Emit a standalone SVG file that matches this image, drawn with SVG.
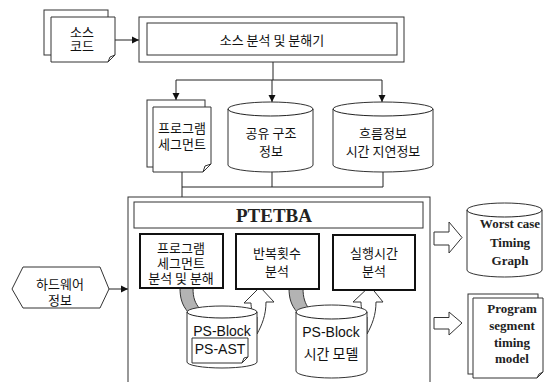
<svg xmlns="http://www.w3.org/2000/svg" width="544" height="382" viewBox="0 0 544 382">
<defs>
<marker id="ah" markerWidth="8" markerHeight="8" refX="7" refY="4" orient="auto" markerUnits="userSpaceOnUse">
<path d="M0,0.5 L7,4 L0,7.5 Z" fill="#111"/>
</marker>
<style>
.ln{fill:none;stroke:#222;stroke-width:1}
.sh{fill:#fff;stroke:#333;stroke-width:1}
.bx{fill:#fff;stroke:#111;stroke-width:2}
.kt{font-family:"Noto Sans CJK KR","Noto Sans",sans-serif;font-size:13px;fill:#111;text-anchor:middle;dominant-baseline:central}
.st{font-family:"Liberation Sans",Arial,sans-serif;font-size:14px;fill:#111;text-anchor:middle;dominant-baseline:central}
.sb{font-family:"Liberation Serif","Times New Roman",serif;font-weight:bold;font-size:13px;fill:#222;text-anchor:middle;dominant-baseline:central}
.big{font-size:19px}
.k14{font-size:14px}
.grey{fill:#b3b3b3;stroke:#333;stroke-width:1}
.hol{fill:#fff;stroke:#333;stroke-width:1}
</style>
</defs>
<rect width="544" height="382" fill="#fff"/>

<g id="connectors">
<line class="ln" x1="115" y1="40" x2="139" y2="40" marker-end="url(#ah)"/>
<polyline class="ln" points="273,62 273,80"/>
<line class="ln" x1="176" y1="80" x2="382" y2="80"/>
<line class="ln" x1="176" y1="80" x2="176" y2="100" marker-end="url(#ah)"/>
<line class="ln" x1="272" y1="80" x2="272" y2="102" marker-end="url(#ah)"/>
<line class="ln" x1="382" y1="80" x2="382" y2="102" marker-end="url(#ah)"/>
<line class="ln" x1="182" y1="172" x2="182" y2="234" marker-end="url(#ah)"/>
<line class="ln" x1="182" y1="187" x2="383" y2="187"/>
<line class="ln" x1="272" y1="172" x2="272" y2="187"/>
<line class="ln" x1="383" y1="172" x2="383" y2="187"/>
<line class="ln" x1="109" y1="289" x2="128" y2="289" marker-end="url(#ah)"/>
<path class="hol" d="M434,232 H449 V222 L462,237.5 L449,253 V245 H434 Z"/>
<path class="hol" d="M434,317.5 H449 V312 L462,323 L449,335 V329 H434 Z"/>
</g>

<g id="source-code">
<rect class="sh" x="44" y="10" width="64" height="45"/>
<path class="sh" d="M51,17 H115 V55 L108,62 H51 Z"/>
<path class="sh" d="M108,62 L110,57 L115,55 Z"/>
<text class="kt"><tspan x="82" y="31">소스</tspan><tspan x="82" y="45">코드</tspan></text>
</g>

<g id="source-analyzer">
<rect class="sh" x="139" y="17" width="265" height="45" stroke="#444"/>
<rect class="sh" x="147" y="23" width="250" height="32" stroke="#444"/>
<text class="kt" x="272" y="39">소스 분석 및 분해기</text>
</g>

<g id="program-segment-doc">
<rect class="sh" x="147" y="100" width="58" height="67"/>
<path class="sh" d="M153,107 H211 V164 L203,172 H153 Z"/>
<path class="sh" d="M203,172 L205,166 L211,164 Z"/>
<text class="kt"><tspan x="182" y="127">프로그램</tspan><tspan x="182" y="143">세그먼트</tspan></text>
</g>

<g id="shared-structure">
<path class="sh" d="M228,109 A42.5,7 0 0 1 313,109 V165 A42.5,7 0 0 1 228,165 Z"/>
<path class="ln" d="M228,109 A42.5,7 0 0 0 313,109"/>
<text class="kt"><tspan x="271" y="132">공유 구조</tspan><tspan x="271" y="150">정보</tspan></text>
</g>

<g id="flow-info">
<path class="sh" d="M333,109 A50,7 0 0 1 433,109 V165 A50,7 0 0 1 333,165 Z"/>
<path class="ln" d="M333,109 A50,7 0 0 0 433,109"/>
<text class="kt"><tspan x="383" y="132">흐름정보</tspan><tspan x="383" y="150">시간 지연정보</tspan></text>
</g>

<g id="ptetba">
<rect class="sh" x="128" y="197" width="302" height="200" stroke="#444"/>
<rect class="sh" x="134" y="202" width="289" height="26" stroke="#444"/>
<text class="sb big" x="274" y="215">PTETBA</text>
</g>

<g id="hardware-info">
<path class="sh" d="M12,289 L23,267 H100 L109,289 L100,308 H23 Z"/>
<text class="kt"><tspan x="60" y="283">하드웨어</tspan><tspan x="60" y="299">정보</tspan></text>
</g>

<g id="flows">
<path class="grey" d="M180,288 H193 C193,298 195,303 200,309 L188,312 C182,305 180,298 180,288 Z"/>
<path class="grey" d="M289,288 H303 C303,298 305,303 309,309 L297,312 C291,305 289,298 289,288 Z"/>
<path class="hol" d="M257,317 C252,313 251,308 251,303 L244,303 L260,287 L274,302 L266,302 C266,315 262,325 257,334 Z"/>
<path class="hol" d="M367,317 C362,313 361,308 361,302 L353,302 L370,286 L383,302 L376,302 C376,315 372,325 367,334 Z"/>
</g>

<g id="segment-analysis">
<rect class="bx" x="140" y="234" width="83" height="54"/>
<text class="kt"><tspan x="181" y="247">프로그램</tspan><tspan x="181" y="262">세그먼트</tspan><tspan x="181" y="277">분석 및 분해</tspan></text>
</g>

<g id="loop-analysis">
<rect class="bx" x="236" y="234" width="83" height="55"/>
<text class="kt"><tspan x="277" y="252">반복횟수</tspan><tspan x="277" y="270">분석</tspan></text>
</g>

<g id="exec-time-analysis">
<rect class="bx" x="333" y="235" width="82" height="55"/>
<text class="kt"><tspan x="374" y="252">실행시간</tspan><tspan x="374" y="270">분석</tspan></text>
</g>

<g id="ps-block-ast">
<path class="sh" d="M187,312 A35,6 0 0 1 257,312 V362 A35,6 0 0 1 187,362 Z"/>
<path class="ln" d="M187,312 A35,6 0 0 0 257,312"/>
<text class="st" x="222" y="331">PS-Block</text>
<path class="sh" d="M192,338 H248 V357 L242,363 H192 Z"/>
<path class="sh" d="M242,363 L244,358 L248,357 Z"/>
<text class="st" x="220" y="349">PS-AST</text>
</g>

<g id="ps-block-time">
<path class="sh" d="M296,312 A35.5,7 0 0 1 367,312 V371 A35.5,7 0 0 1 296,371 Z"/>
<path class="ln" d="M296,312 A35.5,7 0 0 0 367,312"/>
<text class="st" x="331" y="332">PS-Block</text>
<text class="kt k14" x="331" y="353">시간 모델</text>
</g>

<g id="worst-case-graph">
<path class="sh" d="M467,210 A37.5,7 0 0 1 542,210 V270 A37.5,7 0 0 1 467,270 Z"/>
<path class="ln" d="M467,210 A37.5,7 0 0 0 542,210"/>
<text class="sb"><tspan x="510" y="223">Worst case</tspan><tspan x="510" y="242">Timing</tspan><tspan x="510" y="260">Graph</tspan></text>
</g>

<g id="program-segment-model">
<rect class="sh" x="468" y="294" width="70" height="80"/>
<path class="sh" d="M473,298 H543 V372 L537,378 H473 Z"/>
<path class="sh" d="M537,378 L539,374 L543,372 Z"/>
<text class="sb"><tspan x="512" y="308">Program</tspan><tspan x="512" y="325">segment</tspan><tspan x="512" y="342">timing</tspan><tspan x="512" y="358">model</tspan></text>
</g>
</svg>
